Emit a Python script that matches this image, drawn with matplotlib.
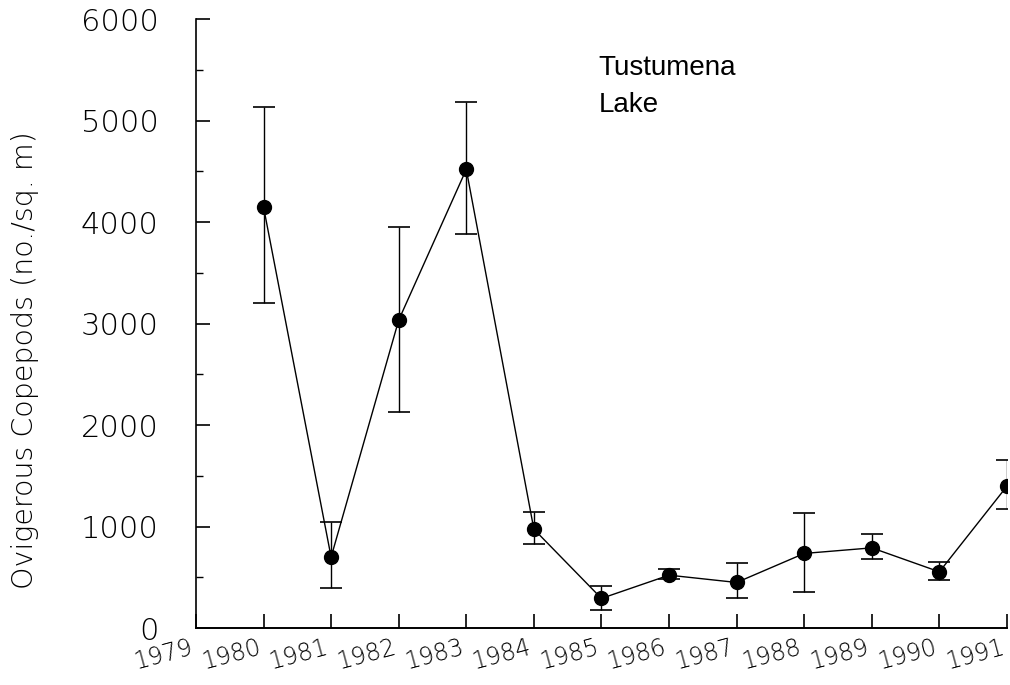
import numpy as np
import matplotlib
matplotlib.use("Agg")
import matplotlib.pyplot as plt
from matplotlib.ticker import MultipleLocator

# Ovigerous copepods, Tustumena Lake
years = [1980, 1981, 1982, 1983, 1984, 1985, 1986, 1987, 1988, 1989, 1990, 1991]
density = [4150, 700, 3035, 4520, 975, 293, 522, 450, 736, 791, 555, 1399]
upper = [5135, 1050, 3955, 5185, 1143, 414, 581, 637, 1136, 923, 653, 1655]
lower = [3200, 395, 2128, 3880, 828, 177, 483, 293, 358, 677, 473, 1170]
xtick_labels = [str(y) for y in range(1979, 1992)]
ytick_values = [0, 1000, 2000, 3000, 4000, 5000, 6000]

density = np.array(density)
yerr = np.array([density - np.array(lower), np.array(upper) - density])

fig = plt.figure(figsize=(10.1, 6.85), dpi=100)
ax = fig.add_axes([0.194, 0.083, 0.803, 0.889])

ax.errorbar(
    years, density, yerr=yerr,
    fmt="-", color="black", lw=1.0,
    ecolor="black", elinewidth=1.0, capsize=8, capthick=1.2,
    marker="o", ms=10, mfc="black", mec="black",
)

ax.set_xlim(1979, 1991)
ax.set_ylim(0, 6000)
ax.set_xticks(range(1979, 1992))
ax.set_xticklabels(xtick_labels, rotation=15, ha="right", va="top",
                   fontsize=17, color="black", fontweight="light")
ax.set_yticks(ytick_values)
ax.set_yticklabels([str(v) for v in ytick_values], fontsize=22,
                   color="black", fontweight="light")
ax.yaxis.set_minor_locator(MultipleLocator(500))

ax.tick_params(axis="both", which="major", direction="in", length=10, width=1.2)
ax.tick_params(axis="y", which="major", pad=27)
ax.tick_params(axis="y", which="minor", direction="in", length=5, width=1.0)
ax.tick_params(axis="x", which="major", pad=5)

ax.spines["top"].set_visible(False)
ax.spines["right"].set_visible(False)
ax.spines["left"].set_linewidth(1.2)
ax.spines["bottom"].set_linewidth(1.4)

ax.set_ylabel("Ovigerous Copepods (no./sq. m)", fontsize=20.5, color="black",
              fontweight="light")
ax.yaxis.set_label_coords(-0.193, 0.44)

ax.text(1984.96, 5650, "Tustumena\nLake", fontsize=20, family="Liberation Sans",
        va="top", ha="left", linespacing=1.55)

fig.savefig("out.png", dpi=100)
